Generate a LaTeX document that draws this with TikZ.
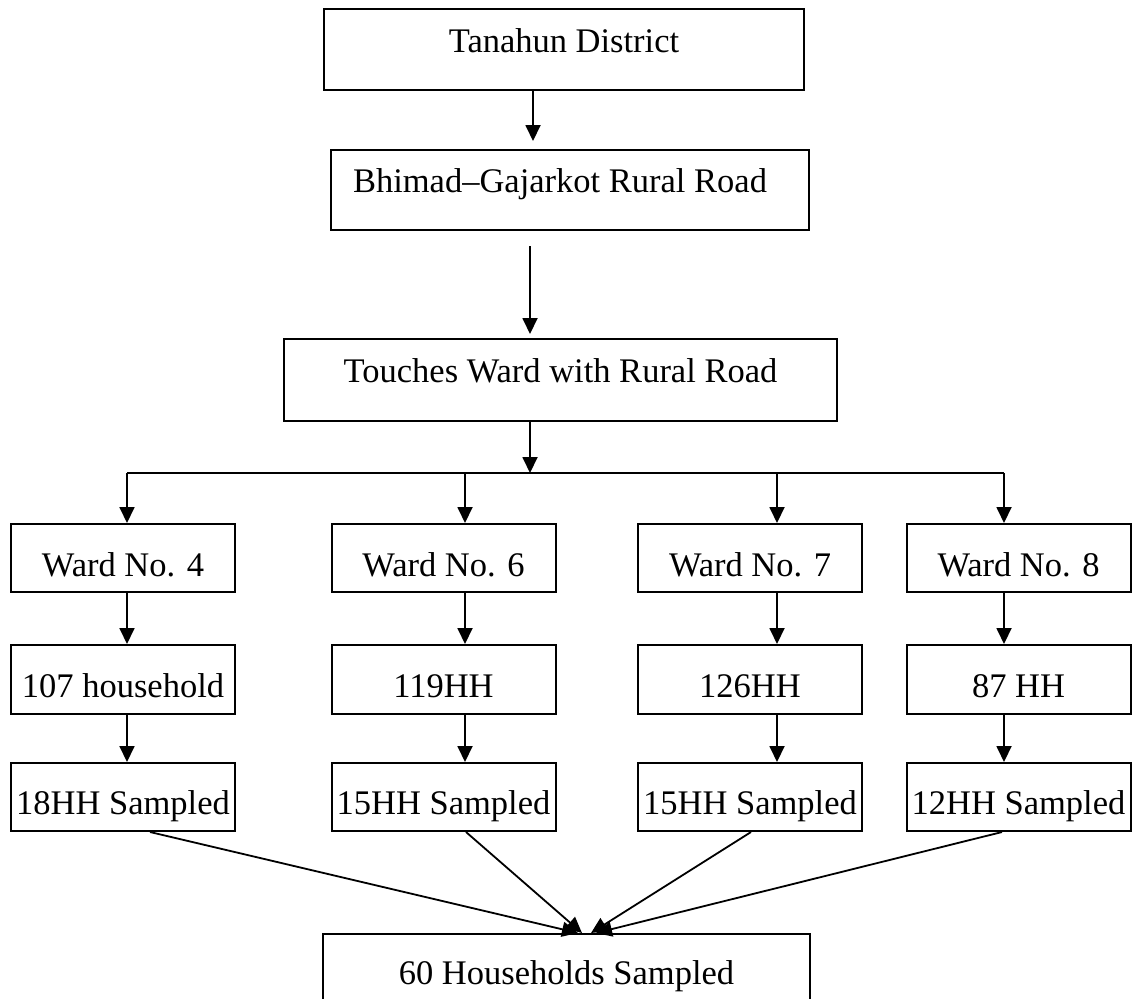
\documentclass[tikz,border=0pt]{standalone}
\usepackage{fontspec}
\setmainfont{Liberation Serif}
\usetikzlibrary{arrows.meta,calc}
\begin{document}
\begin{tikzpicture}[x=0.5pt,y=-0.5pt,
  box/.style={draw, line width=1pt, inner sep=0pt, text depth=0pt, font=\fontsize{17.25}{20}\selectfont},
  ward/.style={box, minimum width=112pt, minimum height=34pt, text height=18pt},
  hh/.style={box, minimum width=112pt, minimum height=34.5pt, text height=17.5pt},
  smp/.style={box, minimum width=112pt, minimum height=34pt, text height=17pt},
  arr/.style={line width=0.9pt, -{Triangle[width=7.5pt,length=8pt]}},
  ln/.style={line width=0.9pt}]
\clip (0,0) rectangle (1133,998);
\fill[white] (0,0) rectangle (1133,998);

\node[box, minimum width=240pt, minimum height=40.5pt, text height=2.5pt] (t1) at (564,49.5) {Tanahun District};
\node[box, minimum width=239pt, minimum height=40pt, text height=2pt] (t2) at (570,190) {Bhimad–Gajarkot Rural Road\hspace*{10pt}};
\node[box, minimum width=276.5pt, minimum height=41pt, text height=2pt] (t3) at (560.5,380) {Touches Ward with Rural Road};

\node[ward] (w1) at (123,558) {Ward No. 4};
\node[ward] (w2) at (443.5,558) {Ward No. 6};
\node[ward] (w3) at (750,558) {Ward No. 7};
\node[ward] (w4) at (1018.5,558) {Ward No. 8};

\node[hh] (h1) at (123,679.5) {107 household};
\node[hh] (h2) at (443.5,679.5) {119HH};
\node[hh] (h3) at (750,679.5) {126HH};
\node[hh] (h4) at (1018.5,679.5) {87 HH};

\node[smp] (p1) at (123,797) {18HH Sampled};
\node[smp] (p2) at (443.5,797) {15HH Sampled};
\node[smp] (p3) at (750,797) {15HH Sampled};
\node[smp] (p4) at (1018.5,797) {12HH Sampled};

\node[box, minimum width=243.5pt, minimum height=50pt, text height=0pt] (fin) at (566.5,984) {60 Households Sampled};

\coordinate (sa) at (533,0);
\coordinate (sb) at (530,0);
\coordinate (br) at (530,473);
\coordinate (c1) at (127,473);
\coordinate (c2) at (465,473);
\coordinate (c3) at (777,473);
\coordinate (c4) at (1004,473);

\draw[arr, shorten >=4pt] (t1.south -| sa) -- (t2.north -| sa);
\draw[arr, shorten <=7.5pt, shorten >=2pt] (t2.south -| sb) -- (t3.north -| sb);
\draw[arr] (t3.south -| sb) -- (br);
\draw[ln] (c1) -- (c4);

\foreach \i in {1,2,3,4}{
  \draw[arr] (c\i) -- (w\i.north -| c\i);
  \draw[arr] (w\i.south -| c\i) -- (h\i.north -| c\i);
  \draw[arr] (h\i.south -| c\i) -- (p\i.north -| c\i);
}

\draw[arr] ([xshift=13.5pt]p1.south) -- ([xshift=5.75pt]fin.north);
\draw[arr] ([xshift=11.25pt]p2.south) -- ([xshift=7.75pt]fin.north);
\draw[arr] ([xshift=0.5pt]p3.south) -- ([xshift=12.25pt]fin.north);
\draw[arr] ([xshift=-8.25pt]p4.south) -- ([xshift=14.75pt]fin.north);
\end{tikzpicture}
\end{document}
